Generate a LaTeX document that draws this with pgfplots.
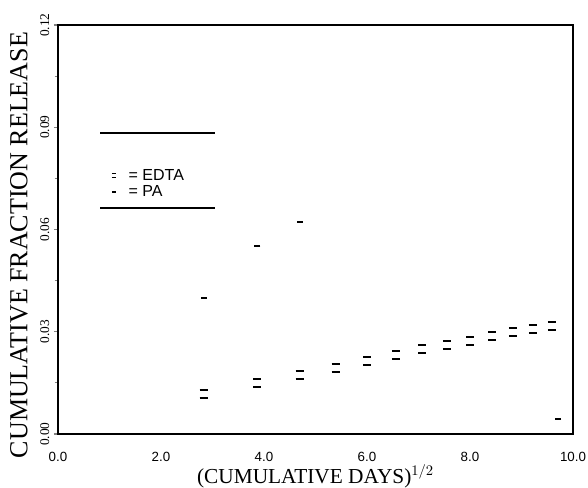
\documentclass[border=0pt]{standalone}
\usepackage{fontspec}
\setmainfont{Liberation Serif}
\newfontfamily\sansf{Liberation Sans}
\usepackage{pgfplots}
\pgfplotsset{compat=1.18}
\pgfdeclareplotmark{dbl}{%
  \pgfpathmoveto{\pgfqpoint{-\pgfplotmarksize}{\pgfplotmarksize}}%
  \pgfpathlineto{\pgfqpoint{\pgfplotmarksize}{\pgfplotmarksize}}%
  \pgfpathmoveto{\pgfqpoint{-\pgfplotmarksize}{-\pgfplotmarksize}}%
  \pgfpathlineto{\pgfqpoint{\pgfplotmarksize}{-\pgfplotmarksize}}%
  \pgfusepathqstroke}
\begin{document}
\begin{tikzpicture}
\useasboundingbox (-43.5pt,-39.75pt) rectangle (397.5pt,325.5pt);
\begin{axis}[
  at={(0pt,0pt)}, anchor=south west,
  scale only axis, width=386.25pt, height=306.75pt,
  xmin=0, xmax=10, ymin=0, ymax=0.12,
  axis line style={line width=1.5pt},
  xtick={0,2,4,6,8,10},
  ytick={0,0.03,0.06,0.09,0.12},
  minor y tick num=1,
  ytick pos=left,
  tick align=outside,
  major tick length=3pt, minor tick length=2.5pt,
  x tick style={draw=none},
  y tick style={line width=0.8pt},
  /pgf/number format/assume math mode=true,
  xticklabel={\pgfmathprintnumber[fixed,fixed zerofill,precision=1]{\tick}},
  yticklabel={\pgfmathprintnumber[fixed,fixed zerofill,precision=2]{\tick}},
  xticklabel style={font=\sansf\fontsize{10}{10}\selectfont, anchor=center, yshift=-14pt},
  yticklabel style={font=\fontsize{10}{10}\selectfont, rotate=90, anchor=south},
  xlabel={(CUMULATIVE DAYS)$^{1/2}$},
  ylabel={CUMULATIVE FRACTION RELEASE},
  every axis x label/.style={at={(axis description cs:0.5,-0.103)}, anchor=center, font=\fontsize{16}{16}\selectfont},
  every axis y label/.style={at={(axis description cs:-0.076,0.462)}, anchor=center, rotate=90, font=\fontsize{19.5}{19.5}\selectfont},
  legend style={at={(axis cs:0.884,0.0734)}, anchor=west, draw=none, fill=none, inner sep=0pt,
    font=\sansf\fontsize{12}{12}\selectfont, row sep=-1.5pt},
  legend cell align=left,
  legend image code/.code={\path (0cm,0cm) (0.55cm,0cm);\draw[#1,mark size=1.5pt] plot coordinates {(0.25cm,0cm)};},
]
\addplot[only marks, mark=dbl, mark size=3pt, line width=1pt, black] coordinates {
(2.83,0.0117) (3.87,0.0150) (4.69,0.0173) (5.39,0.0194) (6.00,0.0214)
(6.56,0.0232) (7.07,0.0249) (7.55,0.0261) (8.00,0.0273) (8.43,0.0288)
(8.83,0.0299) (9.22,0.0308) (9.59,0.0317)
};
\addlegendentry{= EDTA}
\addplot[only marks, mark=-, mark size=2.25pt, line width=1pt, black] coordinates {
(2.83,0.0399) (3.87,0.0552) (4.69,0.0622) (9.71,0.0044)
};
\addlegendentry{= PA}
\draw[line width=1pt] (axis cs:0.816,0.0883) -- (axis cs:3.05,0.0883);
\draw[line width=1pt] (axis cs:0.816,0.0663) -- (axis cs:3.05,0.0663);
\end{axis}
\end{tikzpicture}
\end{document}
